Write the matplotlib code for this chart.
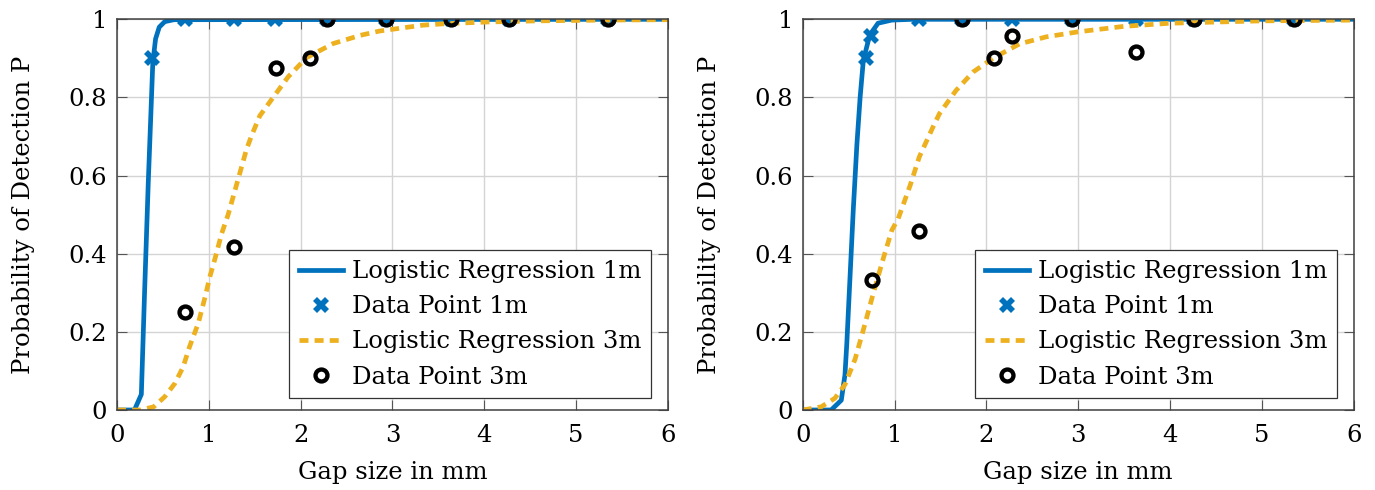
import matplotlib
matplotlib.use("Agg")
import matplotlib.pyplot as plt

# ---- data ----
# left panel
fit_1m_a_x = [0, 0.19, 0.265, 0.30, 0.34, 0.39, 0.42, 0.46, 0.52, 0.62, 6.0]
fit_1m_a_p = [0, 0.0, 0.04, 0.30, 0.58, 0.89, 0.95, 0.98, 0.994, 0.999, 1.0]
fit_3m_a_x = [0, 0.25, 0.40, 0.52, 0.63, 0.72, 0.79, 0.885, 0.96, 1.01, 1.07, 1.14,
              1.21, 1.30, 1.41, 1.465, 1.555, 1.70, 1.865, 2.065, 2.355, 2.65, 2.86,
              3.11, 3.33, 3.59, 4.02, 4.57, 5.3, 6.0]
fit_3m_a_p = [0, 0.0, 0.008, 0.034, 0.068, 0.11, 0.162, 0.222, 0.29, 0.34, 0.39, 0.452,
              0.50, 0.575, 0.667, 0.702, 0.753, 0.80, 0.853, 0.902, 0.938, 0.959, 0.97,
              0.978, 0.985, 0.989, 0.993, 0.996, 0.998, 0.999]
pts_1m_a_x = [0.38, 0.74, 1.27, 1.72, 2.29, 2.93, 3.64, 4.27, 5.35]
pts_1m_a_p = [0.9, 1, 1, 1, 1, 1, 1, 1, 1]
pts_3m_a_x = [0.74, 1.27, 1.73, 2.10, 2.29, 2.93, 3.64, 4.27, 5.35]
pts_3m_a_p = [0.25, 0.417, 0.875, 0.9, 1, 1, 1, 1, 1]

# right panel
fit_1m_b_x = [0, 0.31, 0.42, 0.46, 0.48, 0.515, 0.55, 0.59, 0.625, 0.66, 0.73, 0.82,
              0.97, 1.2, 6.0]
fit_1m_b_p = [0, 0.0, 0.025, 0.09, 0.17, 0.34, 0.51, 0.68, 0.80, 0.895, 0.96, 0.99,
              0.998, 1.0, 1.0]
fit_3m_b_x = [0, 0.2, 0.35, 0.46, 0.57, 0.66, 0.77, 0.88, 0.97, 1.04, 1.17, 1.27, 1.42,
              1.49, 1.67, 1.855, 2.07, 2.36, 2.65, 3.0, 3.5, 4.0, 5.0, 6.0]
fit_3m_b_p = [0, 0.008, 0.03, 0.065, 0.13, 0.205, 0.30, 0.39, 0.46, 0.49, 0.575, 0.648,
              0.725, 0.759, 0.818, 0.865, 0.90, 0.937, 0.955, 0.968, 0.982, 0.99,
              0.996, 0.998]
pts_1m_b_x = [0.69, 0.74, 1.27, 1.73, 2.28, 2.93, 3.63, 4.26, 5.35]
pts_1m_b_p = [0.9, 0.958, 1, 1, 1, 1, 1, 1, 1]
pts_3m_b_x = [0.75, 1.27, 1.73, 2.08, 2.28, 2.93, 3.63, 4.26, 5.35]
pts_3m_b_p = [0.333, 0.458, 1, 0.9, 0.958, 1, 0.917, 1, 1]

x_ticks = [0, 1, 2, 3, 4, 5, 6]
y_ticks = [0, 0.2, 0.4, 0.6, 0.8, 1]
y_tick_labels = ["0", "0.2", "0.4", "0.6", "0.8", "1"]

blue = "#0072BD"
yellow = "#EDB120"

plt.rcParams["font.family"] = ["DejaVu Serif"]
plt.rcParams["font.size"] = 17.5


def draw_panel(ax, fit1, pts1, fit3, pts3):
    ax.plot(fit1[0], fit1[1], color=blue, lw=3.4, label="Logistic Regression 1m")
    ax.plot(pts1[0], pts1[1], ls="none", marker="X", ms=11, color=blue,
            markeredgewidth=0, label="Data Point 1m")
    ax.plot(fit3[0], fit3[1], color=yellow, lw=3.4, ls=(0, (1.9, 1.3)),
            dash_capstyle="butt", label="Logistic Regression 3m")
    ax.plot(pts3[0], pts3[1], ls="none", marker="o", ms=8.6, mfc="none",
            mec="black", mew=3.1, label="Data Point 3m")
    ax.set_xlim(0, 6)
    ax.set_ylim(0, 1)
    ax.set_xticks(x_ticks)
    ax.set_yticks(y_ticks)
    ax.set_yticklabels(y_tick_labels)
    ax.grid(True, color="#d4d4d4", lw=1.0)
    ax.set_axisbelow(True)
    ax.tick_params(direction="in", length=7.5, width=0.8, color="#555555",
                   top=True, right=True)
    ax.tick_params(axis="x", pad=10)
    ax.tick_params(axis="y", pad=7)
    for s in ax.spines.values():
        s.set_color("#404040")
        s.set_linewidth(1.1)
    ax.set_xlabel("Gap size in mm", labelpad=10)
    ax.set_ylabel("Probability of Detection P", labelpad=24)
    leg = ax.legend(loc="lower right", bbox_to_anchor=(0.969, 0.030),
                    borderaxespad=0, numpoints=1, handlelength=1.8,
                    handletextpad=0.37, labelspacing=0.5, borderpad=0.4,
                    fancybox=False, framealpha=1, edgecolor="#333333")
    leg.get_frame().set_linewidth(0.9)


fig = plt.figure(figsize=(13.75, 4.9), dpi=100)
ax1 = fig.add_axes([0.0851, 0.1633, 0.4007, 0.7973])
ax2 = fig.add_axes([0.5838, 0.1633, 0.4007, 0.7973])

draw_panel(ax1, (fit_1m_a_x, fit_1m_a_p), (pts_1m_a_x, pts_1m_a_p),
           (fit_3m_a_x, fit_3m_a_p), (pts_3m_a_x, pts_3m_a_p))
draw_panel(ax2, (fit_1m_b_x, fit_1m_b_p), (pts_1m_b_x, pts_1m_b_p),
           (fit_3m_b_x, fit_3m_b_p), (pts_3m_b_x, pts_3m_b_p))

fig.savefig("out.png", dpi=100)
